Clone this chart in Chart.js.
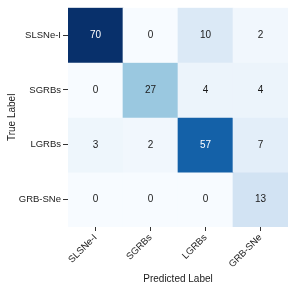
<!DOCTYPE html>
<html><head><meta charset="utf-8">
<script src="https://cdn.jsdelivr.net/npm/chart.js@4/dist/chart.umd.min.js"></script>
<style>html,body{margin:0;padding:0;background:#fff}#wrap{width:295px;height:289px}</style>
</head><body><div id="wrap"><canvas id="c" width="295" height="289"></canvas></div>
<script>
const predictedLabels = ["SLSNe-I", "SGRBs", "LGRBs", "GRB-SNe"];
const trueLabels = ["SLSNe-I", "SGRBs", "LGRBs", "GRB-SNe"];
const rowSLSNe = [70, 0, 10, 2];
const rowSGRBs = [0, 27, 4, 4];
const rowLGRBs = [3, 2, 57, 7];
const rowGRBSNe = [0, 0, 0, 13];
const matrix = [rowSLSNe, rowSGRBs, rowLGRBs, rowGRBSNe];

const blues = ["#f7fbff","#deebf7","#c6dbef","#9ecae1","#6baed6","#4292c6","#2171b5","#08519c","#08306b"];
function hex(h){return [1,3,5].map(i=>parseInt(h.substr(i,2),16));}
function cmap(t){
  t=Math.max(0,Math.min(1,t));
  const p=t*(blues.length-1), i=Math.min(Math.floor(p),blues.length-2), f=p-i;
  const a=hex(blues[i]), b=hex(blues[i+1]);
  return a.map((v,k)=>Math.round(v+(b[k]-v)*f));
}
function lum(rgb){
  const c=rgb.map(v=>{v/=255;return v<=0.03928?v/12.92:Math.pow((v+0.055)/1.055,2.4);});
  return 0.2126*c[0]+0.7152*c[1]+0.0722*c[2];
}
const vmax = Math.max(...matrix.flat()), vmin = Math.min(...matrix.flat());

const datasets = matrix.map((row, r) => ({
  label: trueLabels[r],
  data: row.map(() => 1),
  counts: row,
  backgroundColor: row.map(v => { const c = cmap((v - vmin) / (vmax - vmin)); return `rgb(${c[0]},${c[1]},${c[2]})`; }),
  textColor: row.map(v => lum(cmap((v - vmin) / (vmax - vmin))) > 0.408 ? "#1a1a1a" : "#ffffff"),
  borderWidth: 0,
  barPercentage: 1,
  categoryPercentage: 1
}));

const cellText = {
  id: "cellText",
  afterDatasetsDraw(chart) {
    const ctx = chart.ctx;
    ctx.save();
    ctx.font = "10px 'Liberation Sans', Arial, sans-serif";
    ctx.textAlign = "center";
    ctx.textBaseline = "middle";
    chart.data.datasets.forEach((ds, di) => {
      chart.getDatasetMeta(di).data.forEach((el, i) => {
        ctx.fillStyle = ds.textColor[i];
        ctx.fillText(String(ds.counts[i]), el.x, (el.y + el.base) / 2);
      });
    });
    ctx.restore();
  }
};

const font = { family: "'Liberation Sans', Arial, sans-serif", size: 9.5 };
new Chart(document.getElementById("c"), {
  type: "bar",
  data: { labels: predictedLabels, datasets },
  options: {
    responsive: false,
    animation: false,
    devicePixelRatio: 1,
    layout: { padding: { top: 6, right: 7, left: 0, bottom: 0 } },
    plugins: { legend: { display: false }, tooltip: { enabled: false } },
    scales: {
      x: {
        stacked: true,
        offset: true,
        border: { display: false },
        grid: { offset: false, drawOnChartArea: false, drawTicks: true, tickLength: 4, color: "#333", lineWidth: 1 },
        ticks: { color: "#1a1a1a", font, minRotation: 45, maxRotation: 45, padding: 1 },
        title: { display: true, text: "Predicted Label", color: "#1a1a1a", font: { family: font.family, size: 10 }, padding: { top: 2, bottom: 4 } },
        afterFit(s) { s.height = 62; }
      },
      y: {
        stacked: true,
        type: "linear",
        min: 0, max: 4,
        reverse: true,
        border: { display: false },
        grid: { drawOnChartArea: false, drawTicks: true, tickLength: 5, color: "#333", lineWidth: 1 },
        afterBuildTicks(s) { s.ticks = trueLabels.map((_, i) => ({ value: i + 0.5 })); },
        ticks: { color: "#1a1a1a", font, padding: 2, callback: (v) => trueLabels[Math.floor(v)] },
        title: { display: true, text: "True Label", color: "#1a1a1a", font: { family: font.family, size: 10 }, padding: { top: 6, bottom: 2 } },
        afterFit(s) { s.width = 68; }
      }
    }
  },
  plugins: [cellText]
});
</script>
</body></html>
